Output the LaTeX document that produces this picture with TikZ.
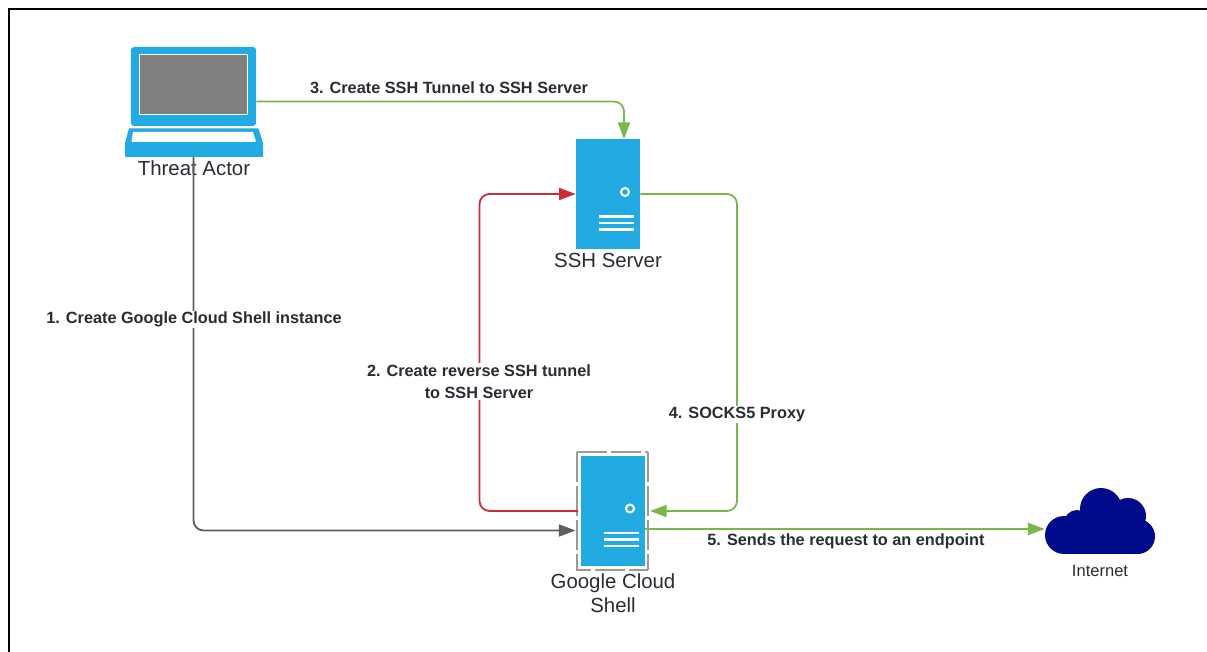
\documentclass[tikz,border=0pt]{standalone}
\usepackage{fontspec}
\setmainfont{Liberation Sans}
\usetikzlibrary{arrows.meta}
\definecolor{srvblue}{HTML}{22ABE2}
\definecolor{scrgray}{HTML}{808080}
\definecolor{dashgray}{HTML}{999999}
\definecolor{linegreen}{HTML}{7AB648}
\definecolor{linered}{HTML}{C92D39}
\definecolor{linegray}{HTML}{5E5E5E}
\definecolor{cloudblue}{HTML}{000B8C}
\definecolor{inkgray}{HTML}{282C33}
\tikzset{
  server/.style={fill=srvblue,inner sep=0pt,minimum width=48pt,minimum height=82.5pt},
  title/.style={text=inkgray,font=\fontsize{15.3}{18}\selectfont,align=center,inner sep=0pt},
  steplabel/.style={text=inkgray,font=\fontsize{12.2}{16.5}\selectfont\bfseries,align=center,inner sep=1pt},
  link/.style={line width=1.35pt,rounded corners=7.5pt,-{Triangle[length=12.5pt,width=9pt]}},
  dashside/.style={dashgray,line width=1.6pt,dash pattern=on 22.5pt off 3pt},
}
\begin{document}
\begin{tikzpicture}[x=0.75pt,y=-0.75pt]
  \useasboundingbox (0,0) rectangle (1207,652);
  % frame
  \draw[line width=1.5pt] (8.5,652) -- (8.5,9.5) -- (1207,9.5);
  % laptop
  \node[fill=srvblue,rounded corners=2.5pt,inner sep=0pt,minimum width=94pt,minimum height=59.25pt] (laptop) at (193.5,86.5) {};
  \node[fill=scrgray,draw=white,line width=1.3pt,inner sep=0pt,minimum width=81pt,minimum height=45pt] (screen) at (193.5,84.5) {};
  \fill[srvblue] (129,128.5) -- (258.5,128.5) -- (263,143) -- (263,157) -- (125,157) -- (125,143) -- cycle;
  \fill[white] (133,132) -- (253,132) -- (256,142) -- (131.5,142) -- cycle;
  \coordinate (laptopbase) at (193.5,157);
  % servers
  \node[server] (ssh) at (608,194) {};
  \node[server] (gcs) at (613,510.5) {};
  \draw[dashside] (577,452) -- (648,452);
  \draw[dashside] (577,452) -- (577,570) -- (648,570);
  \draw[dashside] (648,452) -- (648,570);
  \foreach \srv in {ssh,gcs} {
    \begin{scope}[shift={(\srv.center)}]
      \draw[white,line width=1.5pt] (17,-2) circle (4);
      \foreach \ylev in {22.5,29,35.5}
        \draw[white,line width=1.8pt] (-9,\ylev) -- (26,\ylev);
    \end{scope}
  }
  % cloud
  \node[inner sep=0pt,minimum width=83pt,minimum height=49.5pt] (internet) at (1100.25,521) {};
  \foreach \cx/\cy/\rad in {1064/535/19,1077/523/13,1101/509/21,1128/516/18,1137.5/536.5/17.5}
    \fill[cloudblue] (\cx,\cy) circle (\rad);
  \fill[cloudblue] (1081,505) rectangle (1128,554);
  \fill[cloudblue] (1064,525) rectangle (1137.5,554);
  \fill[cloudblue] (1128,516) rectangle (1144,540);
  % labels of the machines
  \node[title] (actorname) at (194,168) {Threat Actor};
  \node[title] (sshname) at (608,260) {SSH Server};
  \node[title] (gcsname) at (613,593) {Google Cloud\\Shell};
  \node[text=inkgray,inner sep=0pt,font=\fontsize{12.4}{14}\selectfont] (netname) at (1100,571) {Internet};
  % connectors
  \draw[link,linegray] (laptopbase) -- (193.5,530.5) -- (575.5,530.5);
  \draw[link,linered] (578,511) -- (479.5,511) -- (479.5,194) -- (ssh.west);
  \draw[link,linegreen] ([yshift=-11.25pt]laptop.east) -- (624,101.5) -- (624,139);
  \draw[link,linegreen] (ssh.east) -- (737,194) -- (737,511) -- (650,511);
  \draw[link,linegreen] (645,529) -- (internet.west |- 0,529);
  % step labels
  \node[steplabel,fill=white] (stepone) at (194,319.5) {1. Create Google Cloud Shell instance};
  \node[steplabel,fill=white] (steptwo) at (479,381.5) {2. Create reverse SSH tunnel\\to SSH Server};
  \node[steplabel] (stepthree) at (449,87.5) {3. Create SSH Tunnel to SSH Server};
  \node[steplabel,fill=white] (stepfour) at (737,414.5) {4. SOCKS5 Proxy};
  \node[steplabel] (stepfive) at (846,541.5) {5. Sends the request to an endpoint};
\end{tikzpicture}
\end{document}
